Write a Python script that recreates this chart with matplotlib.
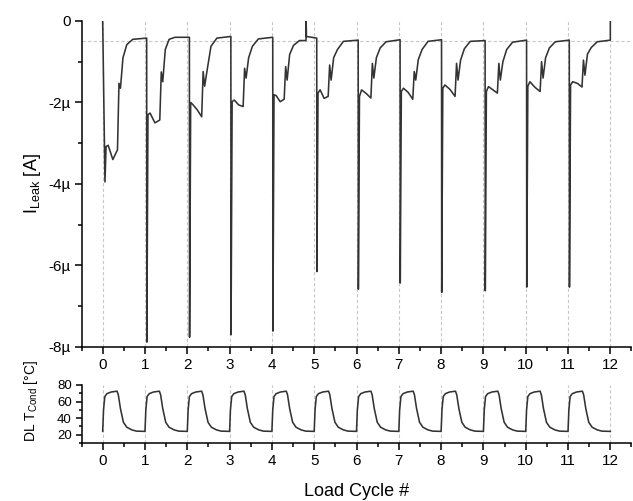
import matplotlib
matplotlib.use("Agg")
import matplotlib.pyplot as plt
from matplotlib.ticker import MultipleLocator

plt.rcParams['font.family'] = ['Liberation Sans', 'DejaVu Sans']
plt.rcParams['mathtext.default'] = 'regular'

# leakage current per load cycle, values in µA
drop_t = [0.05, 1.04, 2.05, 3.03, 4.02, 5.06, 6.04, 7.03, 8.01, 9.04, 10.02, 11.03]
spike_min = [-3.95, -7.88, -7.76, -7.70, -7.61, -6.15, -6.58, -6.43, -6.66, -6.62, -6.53, -6.53]
step_a = [-3.08, -2.30, -2.00, -1.98, -1.81, -1.77, -1.85, -1.73, -1.65, -1.73, -1.60, -1.57]
step_b = [-3.05, -2.26, -2.05, -1.94, -1.83, -1.69, -1.69, -1.65, -1.57, -1.61, -1.49, -1.49]
step_c = [-3.40, -2.50, -2.18, -2.06, -1.98, -1.90, -1.78, -1.75, -1.68, -1.69, -1.63, -1.53]
step_d = [-3.16, -2.43, -2.35, -2.10, -1.92, -1.85, -1.89, -1.92, -1.85, -1.77, -1.73, -1.62]
rise_t = [0.35, 1.35, 2.34, 3.32, 4.29, 5.33, 6.34, 7.33, 8.33, 9.33, 10.34, 11.33]
peak_v = [-1.53, -1.25, -1.24, -1.16, -1.12, -1.08, -1.04, -1.24, -1.04, -1.04, -1.00, -0.96]
notch_v = [-1.65, -1.49, -1.60, -1.40, -1.45, -1.45, -1.40, -1.45, -1.45, -1.45, -1.40, -1.33]
mid1_v = [-0.90, -0.70, -1.20, -0.90, -0.82, -0.90, -0.90, -0.95, -0.96, -1.00, -0.90, -0.81]
mid2_v = [-0.58, -0.45, -0.62, -0.62, -0.60, -0.70, -0.66, -0.70, -0.68, -0.70, -0.66, -0.65]
mid3_v = [-0.45, -0.40, -0.42, -0.44, -0.48, -0.50, -0.51, -0.50, -0.50, -0.52, -0.51, -0.51]
plateau_v = [-0.42, -0.40, -0.38, -0.40, -0.42, -0.47, -0.46, -0.46, -0.48, -0.47, -0.47, -0.47]
blip_t = [4.81]

# conductor temperature, one repeated cycle shape
temp_phase = [0.00, 0.02, 0.05, 0.10, 0.20, 0.34, 0.37, 0.42, 0.49, 0.57, 0.69, 0.80, 1.00]
temp_shape = [24, 50, 66, 69.5, 71.5, 72.5, 68, 51.5, 35, 29, 25.8, 24.3, 24]

cycle_ticks = list(range(13))

# build leakage trace
xs = [0.0]
ys = [0.0]
for i in range(len(drop_t)):
    if i > 0:
        xs.append(drop_t[i])
        ys.append(plateau_v[i - 1])
    b_t = drop_t[i] + 0.08
    xs += [drop_t[i] + 0.004, drop_t[i] + 0.03, b_t, (b_t + rise_t[i]) / 2, rise_t[i],
           rise_t[i] + 0.035, rise_t[i] + 0.07, rise_t[i] + 0.13, rise_t[i] + 0.22, rise_t[i] + 0.36]
    ys += [spike_min[i], step_a[i], step_b[i], step_c[i], step_d[i],
           peak_v[i], notch_v[i], mid1_v[i], mid2_v[i], mid3_v[i]]
    for bt in blip_t:
        if rise_t[i] + 0.36 < bt < drop_t[i] + 1:
            xs += [bt - 0.004, bt, bt + 0.006]
            ys += [mid3_v[i], 0.0, -0.38]
xs += [12.0, 12.0]
ys += [plateau_v[-1], 0.0]

tx = []
ty = []
for n in range(12):
    tx += [n + p for p in temp_phase]
    ty += temp_shape

line_col = '#333333'
grid_col = '#c8c8c8'

fig = plt.figure(figsize=(6.33, 5.01), dpi=100)
ax1 = fig.add_axes([0.1288, 0.3074, 0.8688, 0.6507])
ax2 = fig.add_axes([0.1288, 0.1158, 0.8688, 0.1158])

for ax in (ax1, ax2):
    for n in cycle_ticks:
        ax.axvline(n, color=grid_col, lw=0.8, ls=(0, (3, 2)), zorder=0)
    ax.set_xlim(-0.5, 12.5)
    ax.spines['top'].set_visible(False)
    ax.spines['right'].set_visible(False)
    ax.spines['left'].set_linewidth(1.1)
    ax.spines['bottom'].set_linewidth(1.1)
    ax.set_xticks(cycle_ticks)
    ax.xaxis.set_minor_locator(MultipleLocator(0.5))
    ax.tick_params(axis='both', which='major', direction='out', length=5, width=1.1,
                   labelsize=11, pad=3)
    ax.tick_params(axis='both', which='minor', direction='out', length=3, width=1.1)

ax1.axhline(-0.5, color=grid_col, lw=0.8, ls=(0, (3, 2)), zorder=0)
ax1.plot(xs, ys, color=line_col, lw=1.15)
ax1.set_ylim(-8, 0)
ax1.set_yticks([0, -2, -4, -6, -8])
ax1.set_yticklabels(['0', '-2µ', '-4µ', '-6µ', '-8µ'])
ax1.yaxis.set_minor_locator(MultipleLocator(1))
ax1.set_ylabel(r'I$_{Leak}$ [A]', fontsize=13, labelpad=4)

ax2.plot(tx, ty, color=line_col, lw=1.15)
ax2.set_ylim(10, 80)
ax2.set_yticks([20, 40, 60, 80])
ax2.yaxis.set_minor_locator(MultipleLocator(10))
ax2.tick_params(axis='y', which='major', labelsize=9.5, length=4)
ax2.tick_params(axis='y', which='minor', length=2.5)
ax2.set_ylabel(r'DL T$_{Cond}$ [°C]', fontsize=10, labelpad=4)
ax2.yaxis.set_label_coords(-0.075, 0.72)
ax2.set_xlabel('Load Cycle #', fontsize=13, labelpad=11)

fig.savefig('out.png', dpi=100)
